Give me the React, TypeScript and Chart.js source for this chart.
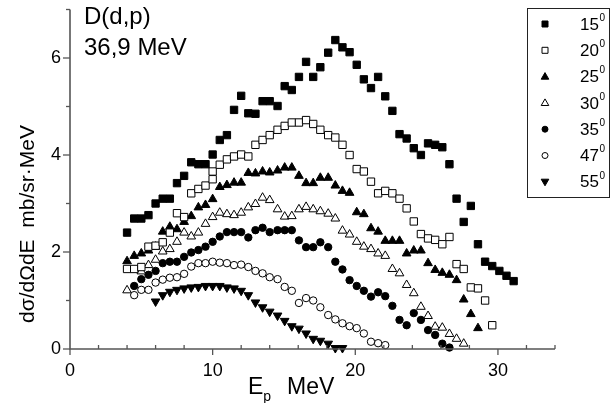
import React, { useEffect, useRef } from 'react';
import { Chart, registerables } from 'chart.js';

Chart.register(...registerables);

const FONT = '"Liberation Sans", Arial, Helvetica, sans-serif';

// Angle labels (legend)
const angles = ['15', '20', '25', '30', '35', '47', '55'];

// 15 deg
const x15 = [4.0, 4.5, 5.0, 5.5, 6.0, 6.5, 7.0, 7.5, 8.0, 8.5, 9.0, 9.5, 10.0, 10.5, 11.0, 11.5, 12.0, 12.5, 13.0, 13.5, 14.0, 14.55, 15.05, 15.55, 16.05, 16.55, 17.05, 17.55, 18.1, 18.6, 19.1, 19.6, 20.1, 20.6, 21.1, 21.6, 22.1, 22.6, 23.1, 23.6, 24.1, 24.6, 25.1, 25.6, 26.1, 26.6, 27.1, 27.6, 28.1, 28.6, 29.1, 29.6, 30.1, 30.6, 31.1];
const y15 = [2.40, 2.69, 2.69, 2.76, 3.00, 3.10, 3.10, 3.42, 3.57, 3.85, 3.81, 3.81, 4.01, 4.31, 4.41, 4.93, 5.22, 4.86, 4.85, 5.11, 5.11, 5.01, 5.42, 5.34, 5.61, 5.92, 5.61, 5.81, 6.11, 6.37, 6.22, 6.12, 5.86, 5.56, 5.38, 5.61, 5.21, 4.91, 4.43, 4.34, 4.14, 4.00, 4.24, 4.21, 4.16, 3.81, 3.10, 2.62, 2.95, 2.16, 1.80, 1.71, 1.61, 1.51, 1.40];

// 20 deg
const x20 = [4.0, 4.5, 5.0, 5.5, 6.0, 6.5, 7.0, 7.5, 8.0, 8.5, 9.0, 9.5, 10.0, 10.0, 10.5, 11.0, 11.5, 12.0, 12.5, 13.0, 13.5, 14.0, 14.55, 15.05, 15.55, 16.05, 16.55, 17.05, 17.55, 18.1, 18.6, 19.1, 19.6, 20.1, 20.6, 21.1, 21.6, 22.1, 22.6, 23.1, 23.6, 24.1, 24.6, 25.1, 25.6, 26.1, 26.6, 27.1, 27.6, 28.1, 28.6, 29.1, 29.6];
const y20 = [1.65, 1.65, 1.69, 2.11, 2.13, 2.20, 2.40, 2.80, 2.72, 3.21, 3.30, 3.37, 3.50, 3.66, 3.80, 3.91, 3.97, 4.01, 3.97, 4.21, 4.31, 4.41, 4.52, 4.60, 4.67, 4.67, 4.72, 4.64, 4.52, 4.41, 4.36, 4.21, 4.00, 3.71, 3.66, 3.45, 3.21, 3.26, 3.21, 3.10, 2.90, 2.63, 2.37, 2.28, 2.25, 2.16, 2.31, 1.75, 1.65, 1.27, 1.25, 1.00, 0.49];

// 25 deg
const x25 = [4.0, 4.5, 5.0, 5.5, 6.0, 6.5, 7.0, 7.5, 8.0, 8.5, 9.0, 9.5, 10.0, 10.5, 11.0, 11.5, 12.0, 12.5, 13.0, 13.5, 14.0, 14.55, 15.05, 15.55, 16.05, 16.55, 17.05, 17.55, 18.1, 18.6, 19.1, 19.6, 20.1, 20.6, 21.1, 21.6, 22.1, 22.6, 23.1, 23.6, 24.1, 24.6, 25.1, 25.6, 26.1, 26.6, 27.1, 27.6, 28.1, 28.6];
const y25 = [1.81, 1.92, 1.97, 2.03, 2.11, 2.42, 2.52, 2.47, 2.62, 2.74, 2.92, 2.97, 3.09, 3.34, 3.38, 3.43, 3.43, 3.63, 3.62, 3.66, 3.64, 3.68, 3.74, 3.74, 3.57, 3.42, 3.42, 3.53, 3.53, 3.37, 3.26, 3.22, 2.82, 2.78, 2.49, 2.42, 2.23, 2.23, 2.23, 1.97, 2.03, 2.03, 1.77, 1.63, 1.57, 1.53, 1.42, 1.02, 0.72, 0.43];

// 30 deg
const x30 = [4.0, 5.0, 5.5, 6.0, 6.5, 7.0, 7.5, 8.0, 8.5, 9.0, 9.5, 10.0, 10.5, 11.0, 11.5, 12.0, 12.5, 13.0, 13.5, 14.0, 14.55, 15.05, 15.55, 16.05, 16.55, 17.05, 17.55, 18.1, 18.6, 19.1, 19.6, 20.1, 20.6, 21.1, 21.6, 22.1, 22.6, 23.1, 23.6, 24.1, 24.6, 25.1, 25.6, 26.1, 26.6, 27.1, 27.6];
const y30 = [1.21, 1.60, 1.73, 1.84, 2.01, 2.06, 2.21, 2.40, 2.32, 2.40, 2.58, 2.72, 2.81, 2.78, 2.76, 2.81, 2.92, 2.99, 3.12, 3.07, 2.88, 2.73, 2.74, 2.88, 2.93, 2.88, 2.84, 2.79, 2.69, 2.44, 2.36, 2.21, 2.11, 2.06, 1.97, 1.92, 1.65, 1.56, 1.32, 1.15, 0.87, 0.68, 0.46, 0.44, 0.31, 0.21, 0.11];

// 35 deg
const x35 = [4.5, 5.0, 5.5, 6.0, 6.5, 7.0, 7.5, 8.0, 8.5, 9.0, 9.5, 10.0, 10.5, 11.0, 11.5, 12.0, 12.5, 13.0, 13.5, 14.0, 14.55, 15.05, 15.55, 16.05, 16.55, 17.05, 17.55, 18.1, 18.6, 19.1, 19.6, 20.1, 20.6, 21.1, 21.6, 22.1, 22.6, 23.1, 23.6, 24.1, 24.6, 25.1, 25.6, 26.1, 26.6];
const y35 = [1.30, 1.44, 1.53, 1.61, 1.77, 1.80, 1.80, 1.90, 1.99, 2.04, 2.11, 2.21, 2.32, 2.41, 2.41, 2.41, 2.30, 2.45, 2.50, 2.41, 2.45, 2.45, 2.45, 2.24, 2.10, 2.10, 2.20, 2.10, 1.80, 1.64, 1.42, 1.30, 1.20, 1.08, 1.17, 1.09, 0.89, 0.60, 0.49, 0.74, 0.60, 0.39, 0.29, 0.11, 0.03];

// 47 deg
const x47 = [4.5, 5.0, 5.5, 6.0, 6.5, 7.0, 7.5, 8.0, 8.5, 9.0, 9.5, 10.0, 10.5, 11.0, 11.5, 12.0, 12.5, 13.0, 13.5, 14.0, 14.55, 15.05, 15.55, 16.05, 16.55, 17.05, 17.55, 18.1, 18.6, 19.1, 19.6, 20.1, 20.6, 21.1, 21.6, 22.1];
const y47 = [1.11, 1.22, 1.22, 1.37, 1.43, 1.47, 1.48, 1.55, 1.70, 1.77, 1.77, 1.80, 1.78, 1.77, 1.73, 1.74, 1.69, 1.61, 1.56, 1.48, 1.44, 1.28, 1.20, 0.95, 1.05, 1.00, 0.86, 0.70, 0.61, 0.53, 0.47, 0.43, 0.32, 0.15, 0.12, 0.08];

// 55 deg
const x55 = [6.0, 6.5, 7.0, 7.5, 8.0, 8.5, 9.0, 9.5, 10.0, 10.5, 11.0, 11.5, 12.0, 12.5, 13.0, 13.5, 14.0, 14.55, 15.05, 15.55, 16.05, 16.55, 17.05, 17.55, 18.1, 18.6, 19.1];
const y55 = [0.98, 1.11, 1.18, 1.22, 1.25, 1.27, 1.28, 1.30, 1.30, 1.30, 1.27, 1.25, 1.20, 1.11, 0.96, 0.86, 0.77, 0.69, 0.58, 0.47, 0.42, 0.32, 0.21, 0.17, 0.11, 0.02, 0.02];

const xSeries = [x15, x20, x25, x30, x35, x47, x55];
const ySeries = [y15, y20, y25, y30, y35, y47, y55];

// Axis ranges and tick labels
const X_MIN = 0, X_MAX = 34, X_STEP = 10, X_MINOR = 2;
const Y_MIN = 0, Y_MAX = 7, Y_STEP = 2, Y_MINOR = 1;

type Mk = { shape: 'square' | 'triangle' | 'circle' | 'down'; fill: boolean };
const markers: Mk[] = [
  { shape: 'square', fill: true },
  { shape: 'square', fill: false },
  { shape: 'triangle', fill: true },
  { shape: 'triangle', fill: false },
  { shape: 'circle', fill: true },
  { shape: 'circle', fill: false },
  { shape: 'down', fill: true },
];

function chartStyle(m: Mk) {
  switch (m.shape) {
    case 'square':
      return { pointStyle: 'rect', pointRadius: 5.2, pointRotation: 0 };
    case 'triangle':
      return { pointStyle: 'triangle', pointRadius: 5.0, pointRotation: 0 };
    case 'down':
      return { pointStyle: 'triangle', pointRadius: 5.0, pointRotation: 180 };
    default:
      return { pointStyle: 'circle', pointRadius: 3.7, pointRotation: 0 };
  }
}

function drawLegendMarker(ctx: CanvasRenderingContext2D, m: Mk, x: number, y: number) {
  ctx.beginPath();
  if (m.shape === 'square') {
    const s = 3;
    ctx.rect(x - s, y - s, 2 * s, 2 * s);
  } else if (m.shape === 'triangle') {
    ctx.moveTo(x, y - 4);
    ctx.lineTo(x + 3.8, y + 2.6);
    ctx.lineTo(x - 3.8, y + 2.6);
    ctx.closePath();
  } else if (m.shape === 'down') {
    ctx.moveTo(x, y + 4);
    ctx.lineTo(x + 3.8, y - 2.6);
    ctx.lineTo(x - 3.8, y - 2.6);
    ctx.closePath();
  } else {
    ctx.arc(x, y, 3, 0, Math.PI * 2);
  }
  ctx.fillStyle = m.fill ? '#000' : '#fff';
  ctx.fill();
  ctx.lineWidth = 1;
  ctx.strokeStyle = '#000';
  ctx.stroke();
}

const overlayPlugin = {
  id: 'overlay',
  afterDraw(chart: any) {
    const ctx: CanvasRenderingContext2D = chart.ctx;
    const xs = chart.scales.x;
    const ys = chart.scales.y;
    const xL = xs.getPixelForValue(X_MIN);
    const xR = xs.getPixelForValue(X_MAX);
    const yB = ys.getPixelForValue(Y_MIN);
    const yT = ys.getPixelForValue(Y_MAX);
    ctx.save();
    // axes
    ctx.strokeStyle = '#555';
    ctx.lineWidth = 1.6;
    ctx.beginPath();
    ctx.moveTo(xL, yT);
    ctx.lineTo(xL, yB);
    ctx.lineTo(xR, yB);
    ctx.stroke();
    // x ticks
    ctx.lineWidth = 1.3;
    for (let v = X_MIN; v <= X_MAX + 1e-9; v += X_MINOR) {
      const px = xs.getPixelForValue(v);
      ctx.beginPath();
      if (v % X_STEP === 0) {
        ctx.moveTo(px, yB);
        ctx.lineTo(px, yB + 6);
      } else {
        ctx.moveTo(px, yB);
        ctx.lineTo(px, yB - 4);
      }
      ctx.stroke();
    }
    // y ticks
    for (let v = Y_MIN; v <= Y_MAX + 1e-9; v += Y_MINOR) {
      const py = ys.getPixelForValue(v);
      ctx.beginPath();
      if (v % Y_STEP === 0) {
        ctx.moveTo(xL - 7, py);
        ctx.lineTo(xL, py);
      } else {
        ctx.moveTo(xL - 4, py);
        ctx.lineTo(xL, py);
      }
      ctx.stroke();
    }

    ctx.fillStyle = '#000';
    // y title
    ctx.save();
    ctx.translate(28, 224);
    ctx.rotate(-Math.PI / 2);
    ctx.font = `21px ${FONT}`;
    ctx.textAlign = 'center';
    ctx.textBaseline = 'middle';
    ctx.fillText('dσ/dΩdE  mb/sr·MeV', 0, 0);
    ctx.restore();

    // x title E_p  MeV
    ctx.textAlign = 'left';
    ctx.textBaseline = 'alphabetic';
    ctx.font = `23px ${FONT}`;
    ctx.fillText('E', 248, 394);
    const wE = ctx.measureText('E').width;
    ctx.font = `14px ${FONT}`;
    ctx.fillText('p', 248 + wE, 401);
    ctx.font = `23px ${FONT}`;
    ctx.fillText('MeV', 287, 394);

    // annotation
    ctx.font = `24px ${FONT}`;
    ctx.fillText('D(d,p)', 84, 24);
    ctx.fillText('36,9 MeV', 84, 55);

    // legend box
    const bx = 527.5, by = 8.5, bw = 82, bh = 189;
    ctx.fillStyle = '#fff';
    ctx.fillRect(bx, by, bw, bh);
    ctx.strokeStyle = '#222';
    ctx.lineWidth = 1;
    ctx.strokeRect(bx, by, bw, bh);
    angles.forEach((a, i) => {
      const cy = 24 + i * 26.3;
      drawLegendMarker(ctx, markers[i], 545, cy);
      ctx.fillStyle = '#000';
      ctx.font = `17px ${FONT}`;
      ctx.textBaseline = 'middle';
      ctx.textAlign = 'left';
      ctx.fillText(a, 580, cy + 1);
      const w = ctx.measureText(a).width;
      ctx.font = `10px ${FONT}`;
      ctx.fillText('0', 580 + w + 0.5, cy - 6);
    });
    ctx.restore();
  },
};

export default function App() {
  const ref = useRef<HTMLCanvasElement | null>(null);
  useEffect(() => {
    if (!ref.current) return;
    const datasets = angles.map((a, i) => {
      const m = markers[i];
      return {
        label: a + '°',
        data: xSeries[i].map((x, j) => ({ x, y: ySeries[i][j] })),
        showLine: false,
        ...chartStyle(m),
        pointBackgroundColor: m.fill ? '#000' : '#fff',
        pointBorderColor: '#000',
        pointBorderWidth: 1,
        pointHoverRadius: 4,
        clip: false as any,
      };
    });
    const chart = new Chart(ref.current, {
      type: 'scatter',
      data: { datasets: datasets as any },
      options: {
        animation: false,
        responsive: false,
        maintainAspectRatio: false,
        layout: { padding: { left: 0, top: 9.5, right: 61, bottom: 0 } },
        plugins: { legend: { display: false }, tooltip: { enabled: false } },
        scales: {
          x: {
            type: 'linear',
            min: X_MIN,
            max: X_MAX,
            grid: { display: false, drawTicks: false },
            border: { display: false },
            ticks: {
              stepSize: X_STEP,
              includeBounds: false,
              maxRotation: 0,
              padding: 11,
              color: '#000',
              font: { family: FONT, size: 18 },
            },
            afterFit: (s: any) => {
              s.height = 54;
              s.paddingLeft = 0;
              s.paddingRight = 0;
            },
          },
          y: {
            type: 'linear',
            min: Y_MIN,
            max: Y_MAX,
            grid: { display: false, drawTicks: false },
            border: { display: false },
            ticks: {
              stepSize: Y_STEP,
              includeBounds: false,
              padding: 9,
              color: '#000',
              font: { family: FONT, size: 18 },
            },
            afterFit: (s: any) => {
              s.width = 70;
              s.paddingTop = 0;
              s.paddingBottom = 0;
            },
          },
        },
      },
      plugins: [overlayPlugin],
    });
    return () => chart.destroy();
  }, []);
  return (
    <div style={{ position: 'fixed', left: 0, top: 0, width: 616, height: 403, background: '#fff' }}>
      <canvas ref={ref} width={616} height={403} style={{ display: 'block' }} />
    </div>
  );
}
